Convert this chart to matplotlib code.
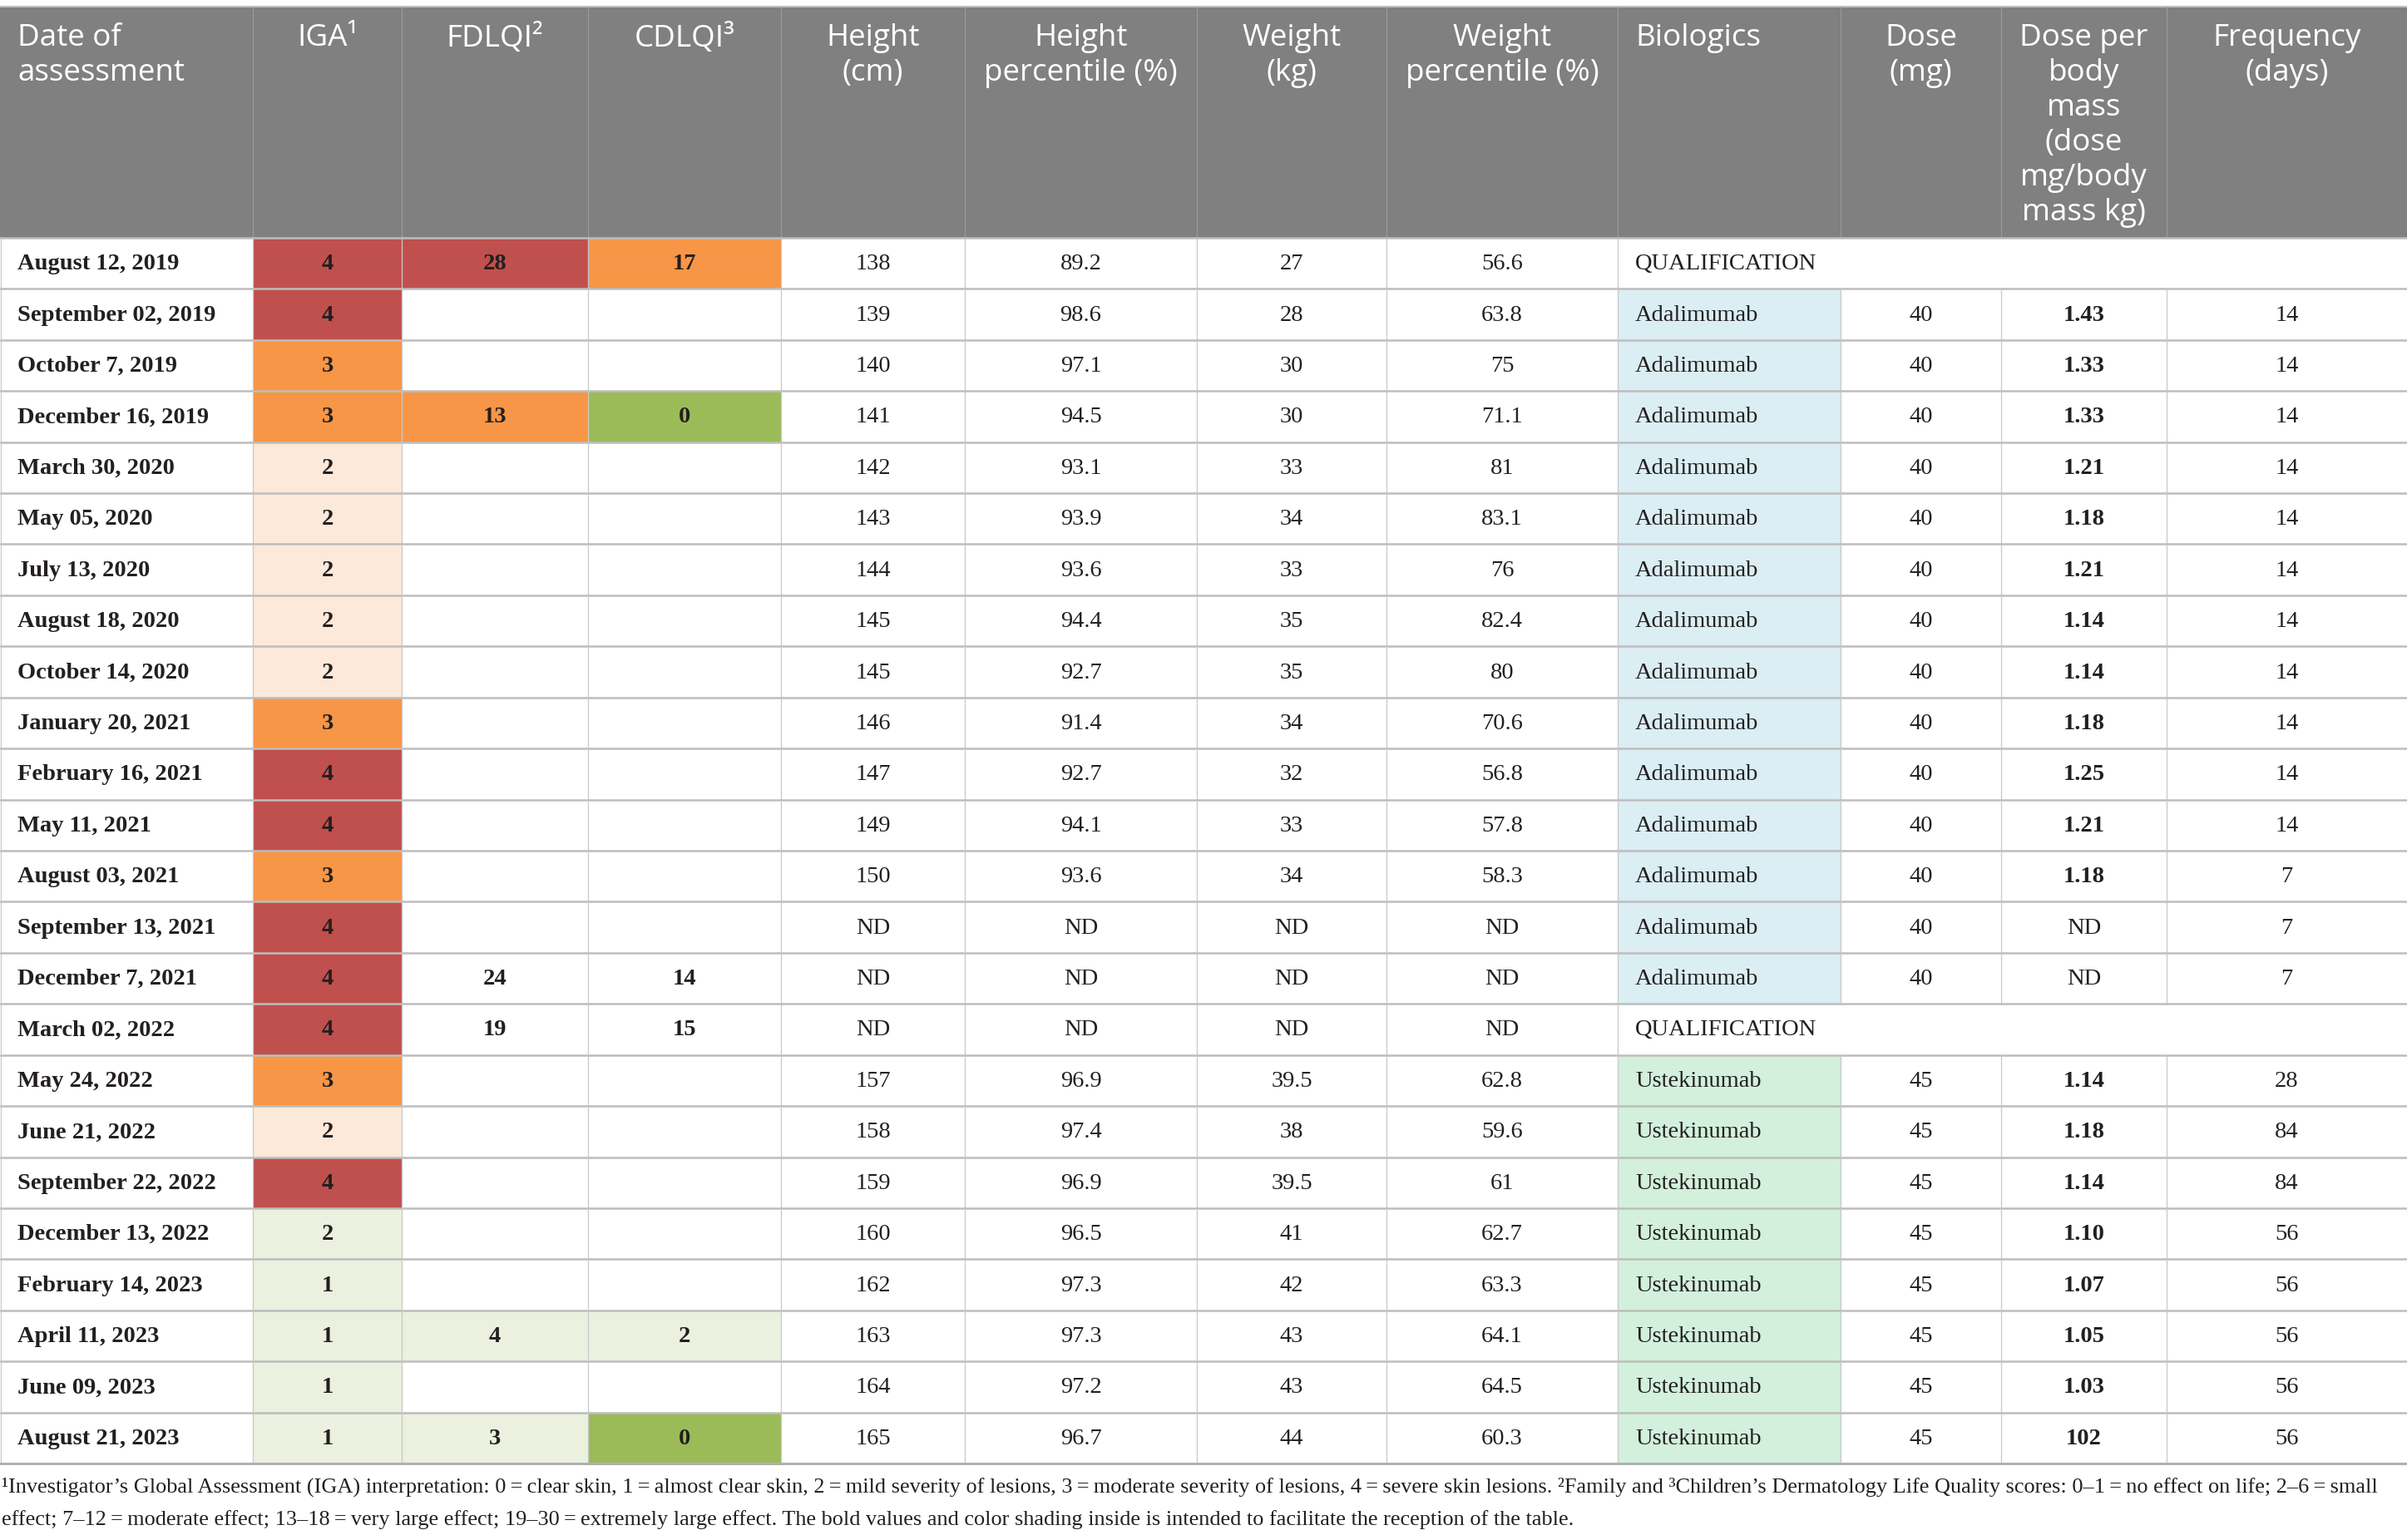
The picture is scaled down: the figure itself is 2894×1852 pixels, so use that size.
import matplotlib
matplotlib.use("Agg")
import matplotlib.pyplot as plt
from matplotlib.patches import Rectangle

# ---------------- data ----------------
headers = ["Date of\nassessment", "IGA\u00b9", "FDLQI\u00b2", "CDLQI\u00b3", "Height\n(cm)",
           "Height\npercentile (%)", "Weight\n(kg)", "Weight\npercentile (%)", "Biologics",
           "Dose\n(mg)", "Dose per\nbody\nmass\n(dose\nmg/body\nmass kg)", "Frequency\n(days)"]

dates = ["August 12, 2019", "September 02, 2019", "October 7, 2019", "December 16, 2019",
         "March 30, 2020", "May 05, 2020", "July 13, 2020", "August 18, 2020",
         "October 14, 2020", "January 20, 2021", "February 16, 2021", "May 11, 2021",
         "August 03, 2021", "September 13, 2021", "December 7, 2021", "March 02, 2022",
         "May 24, 2022", "June 21, 2022", "September 22, 2022", "December 13, 2022",
         "February 14, 2023", "April 11, 2023", "June 09, 2023", "August 21, 2023"]
iga = ["4", "4", "3", "3", "2", "2", "2", "2", "2", "3", "4", "4",
       "3", "4", "4", "4", "3", "2", "4", "2", "1", "1", "1", "1"]
fdlqi = ["28", "", "", "13", "", "", "", "", "", "", "", "",
         "", "", "24", "19", "", "", "", "", "", "4", "", "3"]
cdlqi = ["17", "", "", "0", "", "", "", "", "", "", "", "",
         "", "", "14", "15", "", "", "", "", "", "2", "", "0"]
height = ["138", "139", "140", "141", "142", "143", "144", "145", "145", "146", "147", "149",
          "150", "ND", "ND", "ND", "157", "158", "159", "160", "162", "163", "164", "165"]
height_pct = ["89.2", "98.6", "97.1", "94.5", "93.1", "93.9", "93.6", "94.4", "92.7", "91.4",
              "92.7", "94.1", "93.6", "ND", "ND", "ND", "96.9", "97.4", "96.9", "96.5",
              "97.3", "97.3", "97.2", "96.7"]
weight = ["27", "28", "30", "30", "33", "34", "33", "35", "35", "34", "32", "33",
          "34", "ND", "ND", "ND", "39.5", "38", "39.5", "41", "42", "43", "43", "44"]
weight_pct = ["56.6", "63.8", "75", "71.1", "81", "83.1", "76", "82.4", "80", "70.6",
              "56.8", "57.8", "58.3", "ND", "ND", "ND", "62.8", "59.6", "61", "62.7",
              "63.3", "64.1", "64.5", "60.3"]
biologics = ["QUALIFICATION", "Adalimumab", "Adalimumab", "Adalimumab", "Adalimumab",
             "Adalimumab", "Adalimumab", "Adalimumab", "Adalimumab", "Adalimumab",
             "Adalimumab", "Adalimumab", "Adalimumab", "Adalimumab", "Adalimumab",
             "QUALIFICATION", "Ustekinumab", "Ustekinumab", "Ustekinumab", "Ustekinumab",
             "Ustekinumab", "Ustekinumab", "Ustekinumab", "Ustekinumab"]
dose = ["", "40", "40", "40", "40", "40", "40", "40", "40", "40", "40", "40",
        "40", "40", "40", "", "45", "45", "45", "45", "45", "45", "45", "45"]
dose_per_mass = ["", "1.43", "1.33", "1.33", "1.21", "1.18", "1.21", "1.14", "1.14", "1.18",
                 "1.25", "1.21", "1.18", "ND", "ND", "", "1.14", "1.18", "1.14", "1.10",
                 "1.07", "1.05", "1.03", "102"]
frequency = ["", "14", "14", "14", "14", "14", "14", "14", "14", "14", "14", "14",
             "7", "7", "7", "", "28", "84", "84", "56", "56", "56", "56", "56"]

# shading categories (R=red, O=orange, P=peach, LG=light green, G=green)
iga_shade = ["R", "R", "O", "O", "P", "P", "P", "P", "P", "O", "R", "R",
             "O", "R", "R", "R", "O", "P", "R", "LG", "LG", "LG", "LG", "LG"]
fdlqi_shade = ["R", "", "", "O", "", "", "", "", "", "", "", "",
               "", "", "", "", "", "", "", "", "", "LG", "", "LG"]
cdlqi_shade = ["O", "", "", "G", "", "", "", "", "", "", "", "",
               "", "", "", "", "", "", "", "", "", "LG", "", "G"]

footnote1 = ("\u00b9Investigator\u2019s Global Assessment (IGA) interpretation: 0\u2009=\u2009clear skin, "
             "1\u2009=\u2009almost clear skin, 2\u2009=\u2009mild severity of lesions, 3\u2009=\u2009moderate "
             "severity of lesions, 4\u2009=\u2009severe skin lesions. \u00b2Family and \u00b3Children\u2019s "
             "Dermatology Life Quality scores: 0\u20131\u2009=\u2009no effect on life; 2\u20136\u2009=\u2009small")
footnote2 = ("effect; 7\u201312\u2009=\u2009moderate effect; 13\u201318\u2009=\u2009very large effect; "
             "19\u201330\u2009=\u2009extremely large effect. The bold values and color shading inside is "
             "intended to facilitate the reception of the table.")

# ---------------- style ----------------
shade_colors = {"R": "#C0504D", "O": "#F79646", "P": "#FDE9D9", "LG": "#EBF1DE", "G": "#9BBB59", "": None}
bio_colors = {"Adalimumab": "#DAEEF3", "Ustekinumab": "#D2F0DC"}
HEADER_BG = "#808080"
TEXT = "#231F20"
W, H = 2894, 1852
col_edges = [0, 304, 483, 707, 939, 1160, 1439, 1667, 1945, 2213, 2406, 2605, 2894]
top_y, head_bottom = 8, 286
row_h = (1760 - head_bottom) / 24

sans = ["Open Sans", "DejaVu Sans"]
serif = ["Liberation Serif", "DejaVu Serif"]
HFS, BFS, FFS = 26.5, 20.5, 18.9

fig = plt.figure(figsize=(W / 100, H / 100), dpi=100)
ax = fig.add_axes([0, 0, 1, 1])
ax.set_xlim(0, W)
ax.set_ylim(H, 0)
ax.axis("off")

# header
ax.add_patch(Rectangle((0, top_y), W, head_bottom - top_y, facecolor=HEADER_BG, edgecolor="none"))
ax.plot([0, W], [top_y, top_y], color="#BFBFBF", lw=1.5)
for j, h in enumerate(headers):
    x0, x1 = col_edges[j], col_edges[j + 1]
    if j in (0, 8):
        ax.text(x0 + 21, 28, h, ha="left", va="top", color="white", fontsize=HFS,
                family=sans, linespacing=1.225, multialignment="left")
    else:
        ax.text((x0 + x1) / 2, 28, h, ha="center", va="top", color="white", fontsize=HFS,
                family=sans, linespacing=1.225, multialignment="center")
    if j > 0:
        ax.plot([x0, x0], [top_y, head_bottom], color="#9C9C9C", lw=0.8)

# body
columns = [dates, iga, fdlqi, cdlqi, height, height_pct, weight, weight_pct,
           biologics, dose, dose_per_mass, frequency]
shades = {1: iga_shade, 2: fdlqi_shade, 3: cdlqi_shade}
for i in range(len(dates)):
    y0 = head_bottom + i * row_h
    yc = y0 + row_h / 2 + 1
    qual = biologics[i] == "QUALIFICATION"
    for j, col in enumerate(columns):
        x0, x1 = col_edges[j], col_edges[j + 1]
        if qual and j > 8:
            continue
        fc = None
        if j in shades:
            fc = shade_colors[shades[j][i]]
        if j == 8 and not qual:
            fc = bio_colors[biologics[i]]
        if fc:
            ax.add_patch(Rectangle((x0, y0), x1 - x0, row_h, facecolor=fc, edgecolor="none"))
        val = col[i]
        if not val:
            continue
        bold = j in (0, 1, 2, 3) or (j == 10 and val != "ND")
        if j in (0, 8):
            ax.text(x0 + 21, yc, val, ha="left", va="center", fontsize=BFS, family=serif,
                    color=TEXT, fontweight="bold" if bold else "normal")
        else:
            ax.text((x0 + x1) / 2, yc, val, ha="center", va="center", fontsize=BFS, family=serif,
                    color=TEXT, fontweight="bold" if bold else "normal")
    # vertical grid lines
    for j in range(1, len(col_edges) - 1):
        if qual and j > 8:
            continue
        ax.plot([col_edges[j], col_edges[j]], [y0, y0 + row_h], color="#C8C8C8", lw=0.9)
    # horizontal line below row
    ax.plot([0, W], [y0 + row_h, y0 + row_h], color="#BDBDBD", lw=1.8)

ax.plot([0, W], [head_bottom, head_bottom], color="#BDBDBD", lw=1.8)
ax.plot([0.5, 0.5], [head_bottom, 1760], color="#C8C8C8", lw=0.9)
ax.plot([0, W], [1760, 1760], color="#B0B0B0", lw=2.2)

# footnote
ax.text(2, 1788, footnote1, ha="left", va="center", fontsize=FFS, family=serif, color=TEXT)
ax.text(2, 1828, footnote2, ha="left", va="center", fontsize=FFS, family=serif, color=TEXT)

fig.savefig("out.png", dpi=100)
